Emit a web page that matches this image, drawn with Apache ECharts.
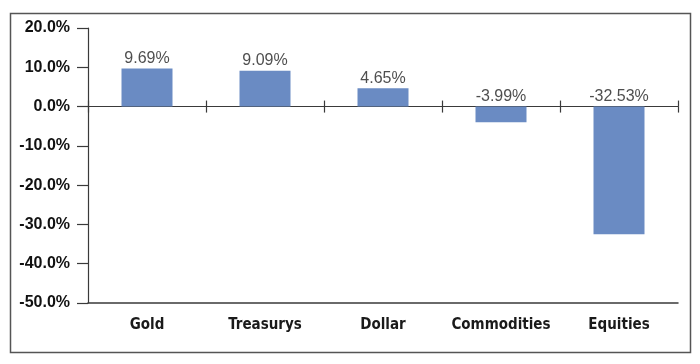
<!DOCTYPE html>
<html>
<head>
<meta charset="utf-8">
<script src="https://cdn.jsdelivr.net/npm/echarts@6/dist/echarts.min.js"></script>
<style>
html,body{margin:0;padding:0;background:#fff;}
#c{width:700px;height:364px;}
</style>
</head>
<body>
<div id="c"></div>
<script>
var categories = ['Gold', 'Treasurys', 'Dollar', 'Commodities', 'Equities'];
var values = [9.69, 9.09, 4.65, -3.99, -32.53];
var valueLabels = ['9.69%', '9.09%', '4.65%', '-3.99%', '-32.53%'];
var yMin = -50, yMax = 20, yStep = 10;

var chart = echarts.init(document.getElementById('c'), null, {renderer: 'canvas'});
var axisColor = '#3a3a3a';
var gridRect = {left: 88, right: 22, top: 28, bottom: 61, containLabel: false};
var option = {
  animation: false,
  backgroundColor: '#fff',
  graphic: [{
    type: 'rect',
    shape: {x: 10.5, y: 13.5, width: 680, height: 339},
    style: {fill: 'none', stroke: '#555', lineWidth: 1.5},
    silent: true
  }],
  grid: [Object.assign({}, gridRect), Object.assign({}, gridRect), Object.assign({}, gridRect)],
  xAxis: [{
    type: 'category',
    gridIndex: 0,
    data: categories,
    position: 'bottom',
    axisLine: {onZero: false, lineStyle: {color: axisColor, width: 1.5}},
    axisTick: {show: false},
    axisLabel: {
      margin: 15, interval: 0,
      fontFamily: 'Liberation Sans Narrow, DejaVu Sans Condensed, Liberation Sans, sans-serif',
      fontSize: 15, fontWeight: 'bold', color: '#1a1a1a'
    }
  }, {
    type: 'category',
    gridIndex: 1,
    data: categories,
    axisLine: {onZero: true, lineStyle: {color: axisColor, width: 1.2}},
    axisTick: {show: true, inside: true, length: 6, lineStyle: {color: axisColor, width: 1.2}},
    axisLabel: {show: false}
  }, {
    type: 'category',
    gridIndex: 2,
    data: categories,
    axisLine: {onZero: true, lineStyle: {color: axisColor, width: 1.2}},
    axisTick: {show: true, inside: false, length: 6, lineStyle: {color: axisColor, width: 1.2}},
    axisLabel: {show: false}
  }],
  yAxis: [{
    type: 'value',
    gridIndex: 0,
    min: yMin, max: yMax, interval: yStep,
    axisLine: {show: true, lineStyle: {color: axisColor, width: 1.2}},
    axisTick: {show: true, length: 11, lineStyle: {color: axisColor, width: 1.2}},
    splitLine: {show: false},
    axisLabel: {
      margin: 18,
      formatter: function (v) { return v.toFixed(1) + '%'; },
      fontFamily: 'Liberation Sans, Arial, sans-serif',
      fontSize: 16, fontWeight: 'bold', color: '#111'
    }
  }, {
    type: 'value', gridIndex: 1, min: yMin, max: yMax, interval: yStep, show: false
  }, {
    type: 'value', gridIndex: 2, min: yMin, max: yMax, interval: yStep, show: false
  }],
  series: [{
    type: 'bar',
    xAxisIndex: 0, yAxisIndex: 0,
    data: values,
    barWidth: 51,
    itemStyle: {color: '#6a8bc3'},
    label: {show: false}
  }, {
    type: 'scatter',
    xAxisIndex: 0, yAxisIndex: 0,
    symbolSize: 0,
    data: values.map(function (v, i) { return [i, Math.max(v, 0)]; }),
    label: {
      show: true, position: 'top', distance: 2,
      formatter: function (p) { return valueLabels[p.dataIndex]; },
      fontFamily: 'Liberation Sans, Arial, sans-serif',
      fontSize: 16, color: '#222'
    },
    silent: true
  }]
};
chart.setOption(option);
</script>
</body>
</html>
